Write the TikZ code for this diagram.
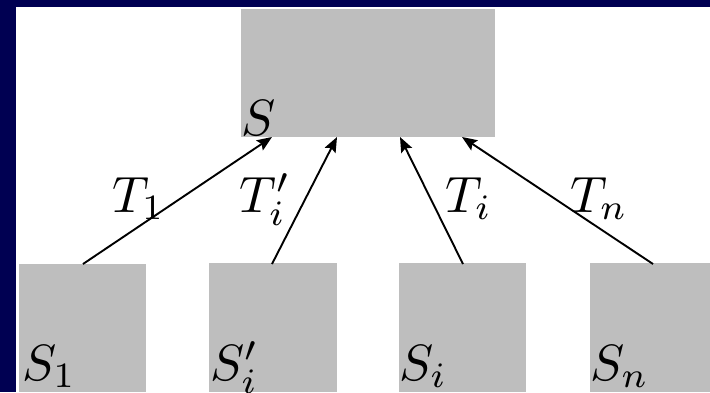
\documentclass[tikz,border=0pt]{standalone}
\usepackage{graphicx}
\usetikzlibrary{arrows.meta}
\definecolor{navybg}{RGB}{0,0,82}
\definecolor{boxgray}{RGB}{190,190,190}
\newcommand{\biglab}[1]{\scalebox{5.1}{#1}}
\begin{document}
\begin{tikzpicture}[x=1pt,y=-1pt,
  box/.style={fill=boxgray,draw=none,inner sep=0pt,outer sep=0pt},
  lab/.style={inner sep=0pt,anchor=base west},
  conn/.style={line width=1.9pt,-{Stealth[length=15pt,width=12pt,inset=2.5pt]}}]
\useasboundingbox (0,0) rectangle (710,392);
\fill[navybg] (0,0) rectangle (710,392);
\fill[white] (16,7) rectangle (710,392);
% boxes
\node[box,minimum width=254pt,minimum height=128pt,anchor=north west] (top) at (241,9) {};
\node[box,minimum width=127pt,minimum height=128pt,anchor=north west] (s1) at (19,264) {};
\node[box,minimum width=128pt,minimum height=129pt,anchor=north west] (sp) at (209,263) {};
\node[box,minimum width=127pt,minimum height=129pt,anchor=north west] (si) at (399,263) {};
\node[box,minimum width=120pt,minimum height=129pt,anchor=north west] (sn) at (590,263) {};
% box labels
\node[lab] (ltop) at (241,135) {\biglab{$S$}};
\node[lab] (l1) at (22,380) {\biglab{$S_1$}};
\node[lab] (lp) at (210,380) {\biglab{$S'_i$}};
\node[lab] (li) at (399,380) {\biglab{$S_i$}};
\node[lab] (ln) at (590,380) {\biglab{$S_n$}};
% connector ends
\coordinate (b1) at (83,264);
\coordinate (bp) at (272,264);
\coordinate (bi) at (463,264);
\coordinate (bn) at (653,264);
\coordinate (t1) at (272,137);
\coordinate (tp) at (337,137);
\coordinate (ti) at (400,137);
\coordinate (tn) at (462,137);
\draw[conn] (b1) -- (t1);
\draw[conn] (bp) -- (tp);
\draw[conn] (bi) -- (ti);
\draw[conn] (bn) -- (tn);
% connector labels
\node[lab] (T1) at (112,212) {\biglab{$T_1$}};
\node[lab] (Tp) at (239,212) {\biglab{$T'_i$}};
\node[lab] (Ti) at (445,212) {\biglab{$T_i$}};
\node[lab] (Tn) at (570,212) {\biglab{$T_n$}};
\end{tikzpicture}
\end{document}
